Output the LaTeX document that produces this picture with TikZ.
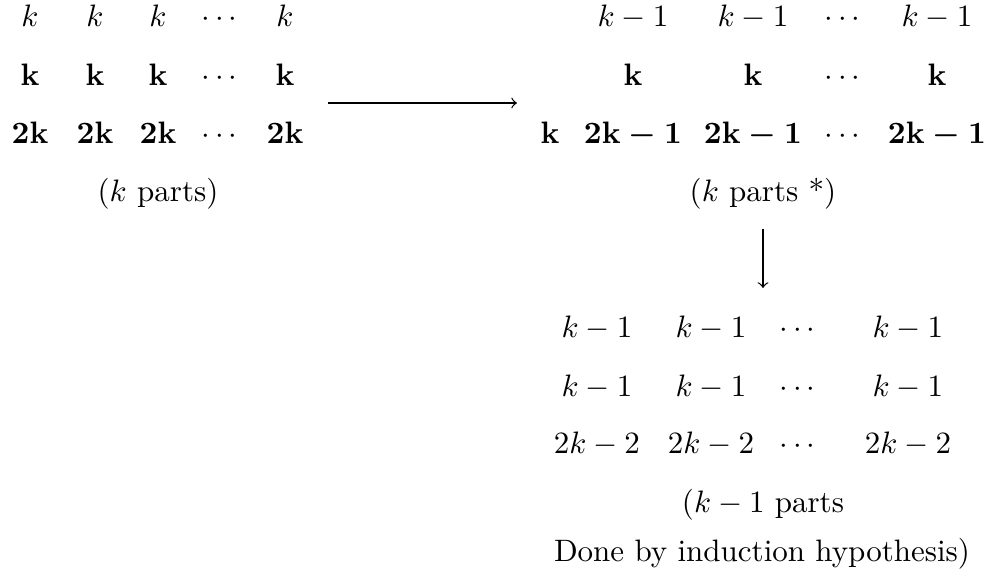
\documentclass[tikz,border=0pt]{standalone}
\usepackage{amsmath}
\newcommand{\bfm}[1]{\mbox{\boldmath$\mathbf{#1}$}}
\begin{document}
\begin{tikzpicture}[x=0.32258pt,y=-0.32258pt,
  cell/.style={anchor=base,inner sep=0pt,outer sep=0pt},
  conn/.style={->,line width=0.4pt}]
\useasboundingbox (0,0) rectangle (989,582);
% left block
\node[cell] (la1) at (30,27) {$k$};
\node[cell] (la2) at (95,27) {$k$};
\node[cell] (la3) at (158,27) {$k$};
\node[cell] (la4) at (222,27) {$\cdots$};
\node[cell] (la5) at (285,27) {$k$};
\node[cell] (lb1) at (30,86) {$\mathbf{k}$};
\node[cell] (lb2) at (95,86) {$\mathbf{k}$};
\node[cell] (lb3) at (158,86) {$\mathbf{k}$};
\node[cell] (lb4) at (222,86) {$\cdots$};
\node[cell] (lb5) at (285,86) {$\mathbf{k}$};
\node[cell] (lc1) at (30,144) {$\mathbf{2k}$};
\node[cell] (lc2) at (95,144) {$\mathbf{2k}$};
\node[cell] (lc3) at (158,144) {$\mathbf{2k}$};
\node[cell] (lc4) at (222,144) {$\cdots$};
\node[cell] (lc5) at (285,144) {$\mathbf{2k}$};
\node[cell] (lp) at (158,202) {($k$ parts)};
% right block
\node[cell] (ra2) at (633,27) {$k-1$};
\node[cell] (ra3) at (753,27) {$k-1$};
\node[cell] (ra4) at (845,27) {$\cdots$};
\node[cell] (ra5) at (937,27) {$k-1$};
\node[cell] (rb2) at (633,86) {$\mathbf{k}$};
\node[cell] (rb3) at (753,86) {$\mathbf{k}$};
\node[cell] (rb4) at (845,86) {$\cdots$};
\node[cell] (rb5) at (937,86) {$\mathbf{k}$};
\node[cell] (rc1) at (550,144) {$\mathbf{k}$};
\node[cell] (rc2) at (633,144) {\bfm{2k-1}};
\node[cell] (rc3) at (753,144) {\bfm{2k-1}};
\node[cell] (rc4) at (845,144) {$\cdots$};
\node[cell] (rc5) at (937,144) {\bfm{2k-1}};
\node[cell] (rp) at (763,202) {($k$ parts *)};
% bottom block
\node[cell] (ba1) at (597,338) {$k-1$};
\node[cell] (ba2) at (711,338) {$k-1$};
\node[cell] (ba3) at (800,338) {$\cdots$};
\node[cell] (ba4) at (908,338) {$k-1$};
\node[cell] (bb1) at (597,397) {$k-1$};
\node[cell] (bb2) at (711,397) {$k-1$};
\node[cell] (bb3) at (800,397) {$\cdots$};
\node[cell] (bb4) at (908,397) {$k-1$};
\node[cell] (bc1) at (597,454) {$2k-2$};
\node[cell] (bc2) at (711,454) {$2k-2$};
\node[cell] (bc3) at (800,454) {$\cdots$};
\node[cell] (bc4) at (908,454) {$2k-2$};
\node[cell] (bp1) at (763,513) {($k-1$ parts};
\node[cell] (bp2) at (762,562) {Done by induction hypothesis)};
% connectors
\coordinate (h1) at (328,103);
\coordinate (h2) at (517,103);
\coordinate (v1) at (763,229);
\coordinate (v2) at (763,288);
\draw[conn] (h1) -- (h2);
\draw[conn] (v1) -- (v2);
\end{tikzpicture}
\end{document}
